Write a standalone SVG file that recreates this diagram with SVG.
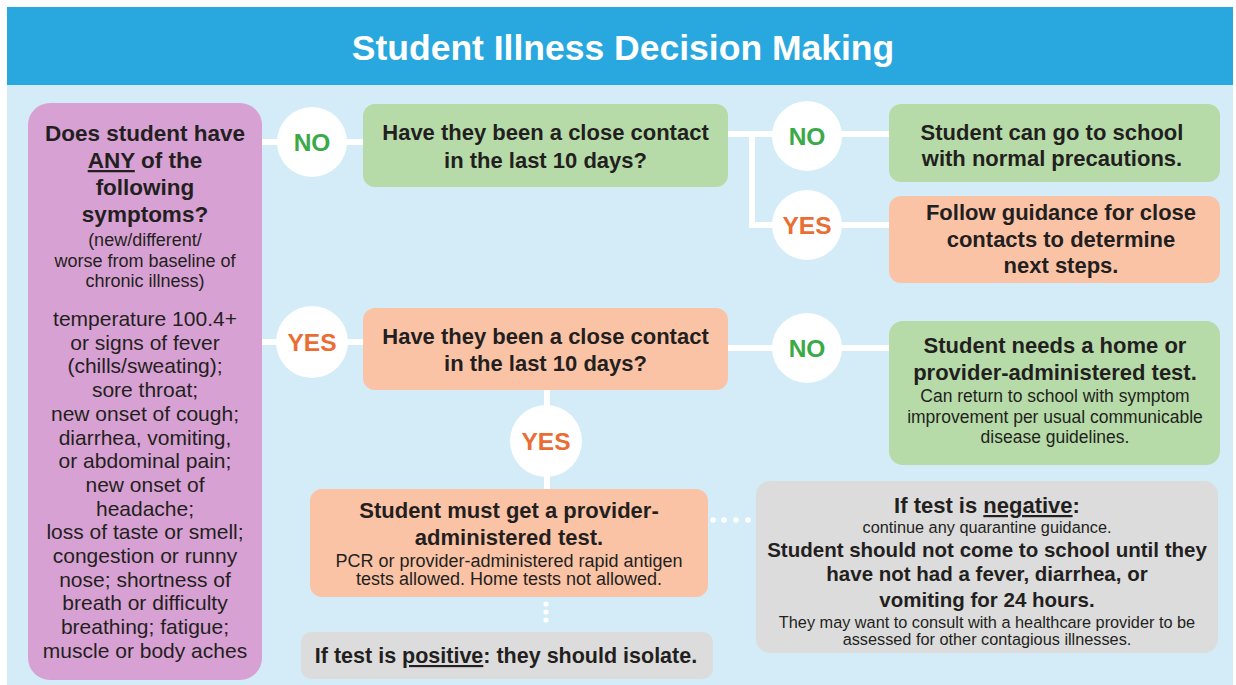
<svg xmlns="http://www.w3.org/2000/svg" width="1236" height="685" viewBox="0 0 1236 685">
<defs>
<style>
.t{font-family:"Liberation Sans",Arial,sans-serif;fill:#231f20;text-anchor:middle}
.b{font-weight:bold;font-size:22px}
.bp{font-weight:bold;font-size:22.5px}
.bg{font-weight:bold;font-size:20.5px}
.s{font-size:18px}
.sg{font-size:16.3px}
.sm{font-size:17.5px}
.l{font-size:21px}
.u{text-decoration:underline}
.conn{stroke:#fff;stroke-width:6;fill:none}
.circ{fill:#fff}
.no{font-family:"Liberation Sans",Arial,sans-serif;font-weight:bold;font-size:24.5px;fill:#3aaa49;text-anchor:middle}
.yes{font-family:"Liberation Sans",Arial,sans-serif;font-weight:bold;font-size:24.5px;fill:#ea6d33;text-anchor:middle}
.green{fill:#b6dba8}
.orange{fill:#fbc3a6}
.gray{fill:#dcdcdc}
.pink{fill:#d8a1d3}
.dot{fill:#fff}
</style>
</defs>
<rect x="0" y="0" width="1236" height="685" fill="#fff"/>
<rect x="7" y="85" width="1226" height="600" fill="#d3ecf8"/>
<g id="header">
<rect x="7" y="7" width="1226" height="78" fill="#29a8e0"/>
<text x="623" y="60" font-family="Liberation Sans, Arial, sans-serif" font-weight="bold" font-size="35.5" fill="#fff" text-anchor="middle">Student Illness Decision Making</text>
</g>
<g id="connectors">
<line class="conn" x1="260" y1="142" x2="365" y2="142"/>
<line class="conn" x1="260" y1="342" x2="365" y2="342"/>
<line class="conn" x1="726" y1="134" x2="891" y2="134"/>
<path class="conn" d="M752,134 V225 H891"/>
<line class="conn" x1="726" y1="348" x2="891" y2="348"/>
<line class="conn" x1="547" y1="388" x2="547" y2="491"/>
<g id="dots-right">
<circle class="dot" cx="713" cy="520" r="2.8"/>
<circle class="dot" cx="724" cy="520" r="2.8"/>
<circle class="dot" cx="736" cy="520" r="2.8"/>
<circle class="dot" cx="748" cy="520" r="2.8"/>
</g>
<g id="dots-down">
<circle class="dot" cx="546" cy="604" r="2.6"/>
<circle class="dot" cx="546" cy="612" r="2.6"/>
<circle class="dot" cx="546" cy="620" r="2.6"/>
</g>
</g>
<g id="symptoms">
<rect class="pink" x="28" y="103" width="234" height="577" rx="22"/>
<text class="t bp" x="145" y="141">Does student have</text>
<text class="t bp" x="145" y="168"><tspan class="u">ANY</tspan> of the</text>
<text class="t bp" x="145" y="195">following</text>
<text class="t bp" x="145" y="222">symptoms?</text>
<text class="t s" x="145" y="246">(new/different/</text>
<text class="t s" x="145" y="267">worse from baseline of</text>
<text class="t s" x="145" y="287">chronic illness)</text>
<text class="t l" x="145" y="326">temperature 100.4+</text>
<text class="t l" x="145" y="349.7">or signs of fever</text>
<text class="t l" x="145" y="373.4">(chills/sweating);</text>
<text class="t l" x="145" y="397.1">sore throat;</text>
<text class="t l" x="145" y="420.8">new onset of cough;</text>
<text class="t l" x="145" y="444.5">diarrhea, vomiting,</text>
<text class="t l" x="145" y="468.2">or abdominal pain;</text>
<text class="t l" x="145" y="491.9">new onset of</text>
<text class="t l" x="145" y="515.6">headache;</text>
<text class="t l" x="145" y="539.3">loss of taste or smell;</text>
<text class="t l" x="145" y="563">congestion or runny</text>
<text class="t l" x="145" y="586.7">nose; shortness of</text>
<text class="t l" x="145" y="610.4">breath or difficulty</text>
<text class="t l" x="145" y="634.1">breathing; fatigue;</text>
<text class="t l" x="145" y="657.8">muscle or body aches</text>
</g>
<g id="no1">
<circle class="circ" cx="312" cy="142" r="35"/>
<text class="no" x="312" y="151">NO</text>
</g>
<g id="yes1">
<circle class="circ" cx="312" cy="342" r="36"/>
<text class="yes" x="312" y="351">YES</text>
</g>
<g id="contact-no">
<rect class="green" x="363" y="104" width="365" height="83" rx="12"/>
<text class="t b" x="545.5" y="140">Have they been a close contact</text>
<text class="t b" x="545.5" y="168">in the last 10 days?</text>
</g>
<g id="contact-yes">
<rect class="orange" x="363" y="308" width="365" height="82" rx="12"/>
<text class="t b" x="545.5" y="344">Have they been a close contact</text>
<text class="t b" x="545.5" y="371">in the last 10 days?</text>
</g>
<g id="no2">
<circle class="circ" cx="807" cy="136" r="35"/>
<text class="no" x="807" y="145">NO</text>
</g>
<g id="yes2">
<circle class="circ" cx="807" cy="225" r="35"/>
<text class="yes" x="807" y="234">YES</text>
</g>
<g id="no3">
<circle class="circ" cx="807" cy="348" r="35"/>
<text class="no" x="807" y="357">NO</text>
</g>
<g id="yes3">
<circle class="circ" cx="546" cy="441" r="36"/>
<text class="yes" x="546" y="450">YES</text>
</g>
<g id="go-to-school">
<rect class="green" x="889" y="104" width="331" height="78" rx="12"/>
<text class="t b" x="1052" y="140">Student can go to school</text>
<text class="t b" x="1052" y="166">with normal precautions.</text>
</g>
<g id="follow-guidance">
<rect class="orange" x="889" y="196" width="331" height="87" rx="12"/>
<text class="t b" x="1061" y="220">Follow guidance for close</text>
<text class="t b" x="1061" y="247">contacts to determine</text>
<text class="t b" x="1061" y="273">next steps.</text>
</g>
<g id="home-test">
<rect class="green" x="889" y="321" width="331" height="144" rx="14"/>
<text class="t b" x="1055" y="353">Student needs a home or</text>
<text class="t b" x="1055" y="380">provider-administered test.</text>
<text class="t sm" x="1055" y="402">Can return to school with symptom</text>
<text class="t sm" x="1055" y="423">improvement per usual communicable</text>
<text class="t sm" x="1055" y="443">disease guidelines.</text>
</g>
<g id="provider-test">
<rect class="orange" x="310" y="489" width="398" height="108" rx="12"/>
<text class="t b" x="509" y="518">Student must get a provider-</text>
<text class="t b" x="509" y="545">administered test.</text>
<text class="t s" x="509" y="567">PCR or provider-administered rapid antigen</text>
<text class="t s" x="509" y="585">tests allowed. Home tests not allowed.</text>
</g>
<g id="positive">
<rect class="gray" x="301" y="632" width="412" height="47" rx="10"/>
<text class="t b" x="506" y="663" style="font-size:21.5px">If test is <tspan class="u">positive</tspan>: they should isolate.</text>
</g>
<g id="negative">
<rect class="gray" x="756" y="481" width="462" height="172" rx="14"/>
<text class="t b" x="987" y="513">If test is <tspan class="u">negative</tspan>:</text>
<text class="t sg" x="987" y="533">continue any quarantine guidance.</text>
<text class="t bg" x="987" y="557">Student should not come to school until they</text>
<text class="t bg" x="987" y="581">have not had a fever, diarrhea, or</text>
<text class="t bg" x="987" y="607">vomiting for 24 hours.</text>
<text class="t sg" x="987" y="628">They may want to consult with a healthcare provider to be</text>
<text class="t sg" x="987" y="645">assessed for other contagious illnesses.</text>
</g>
</svg>
